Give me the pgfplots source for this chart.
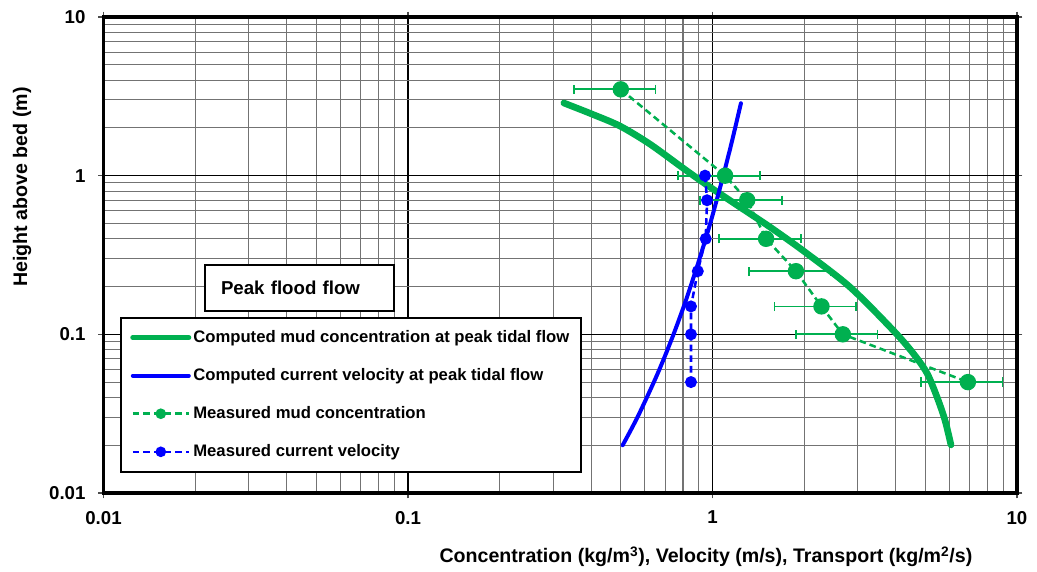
\documentclass[border=0pt]{standalone}
\usepackage{pgfplots}
\pgfplotsset{compat=1.18}
\usepackage{fontspec}
\setmainfont{Liberation Sans}
\definecolor{xgreen}{RGB}{0,176,80}
\definecolor{xblue}{RGB}{0,0,255}
\begin{document}
\begin{tikzpicture}
\begin{axis}[
  scale only axis,
  width=685.1pt, height=357pt,
  xmode=log, ymode=log,
  xmin=0.01, xmax=10, ymin=0.01, ymax=10,
  xtick={0.01,0.1,1,10}, xticklabels={0.01,0.1,1,10},
  ytick={0.01,0.1,1,10}, yticklabels={0.01,0.1,1,10},
  tick label style={font=\bfseries\fontsize{14}{16}\selectfont},
  tick align=outside,
  major tick length=4pt,
  minor tick length=0pt,
  major tick style={black!70, line width=0.8pt},
  xticklabel style={yshift=-6pt},
  yticklabel style={xshift=-6pt},
  grid=both,
  major grid style={black, line width=0.8pt},
  minor grid style={black!55, line width=0.8pt},
  axis line style={line width=2.4pt},
  xlabel={Concentration (kg/m\textsuperscript{3}), Velocity (m/s), Transport (kg/m\textsuperscript{2}/s)},
  ylabel={Height above bed (m)},
  label style={font=\bfseries\fontsize{14.7}{16}\selectfont},
  xlabel style={at={(axis description cs:0.6595,-0.134)}, anchor=center},
  ylabel style={at={(axis description cs:-0.0892,0.643)}, anchor=center},
  legend cell align=left,
  legend image code/.code={\draw[mark repeat=2,mark phase=2] plot coordinates {(0pt,0pt) (21pt,0pt) (42pt,0pt)};},
  legend style={at={(rel axis cs:0.018,0.370)}, anchor=north west, draw=black, line width=1.5pt, fill=white,
    font=\bfseries\fontsize{12.5}{14}\selectfont, row sep=15pt, inner xsep=7pt, inner ysep=8pt,
    nodes={inner sep=1.5pt}},
]
% Computed mud concentration
\addplot[xgreen, line width=5pt, line cap=round, line join=round, smooth, tension=0.5,
  legend image post style={line width=3.8pt}] coordinates {
 (0.325,2.87) (0.402,2.444) (0.497,2.054) (0.623,1.582) (0.800,1.117) (0.959,0.873)
 (1.231,0.634) (1.545,0.4744) (2.013,0.330) (2.828,0.1987) (3.915,0.1064) (4.555,0.0762)
 (5.062,0.0570) (5.462,0.0403) (5.801,0.0288) (6.071,0.0201)
};
\addlegendentry{Computed mud concentration at peak tidal flow}
% Computed current velocity
\addplot[xblue, line width=3pt, line cap=round, smooth] coordinates {
 (0.507,0.02) (0.567,0.03) (0.642,0.05) (0.692,0.07) (0.745,0.1) (0.805,0.15)
 (0.847,0.2) (0.907,0.3) (0.983,0.5) (1.032,0.7) (1.085,1.0) (1.145,1.5)
 (1.187,2.0) (1.240,2.86)
};
\addlegendentry{Computed current velocity at peak tidal flow}
% Measured mud concentration
\addplot[xgreen, line width=1.9pt, dash pattern=on 5pt off 3pt, mark=*, mark size=5.2pt,
  mark options={solid},
  legend image post style={mark size=3pt},
  error bars/.cd, x dir=both, x explicit,
  error bar style={color=xgreen, line width=1.3pt, solid},
  error mark options={color=xgreen, line width=1.3pt, mark size=3.5pt, rotate=90, solid}] coordinates {
 (0.50,3.5) +- (0.15,0)
 (1.10,1.0) +- (0.33,0)
 (1.30,0.7) +- (0.39,0)
 (1.50,0.4) +- (0.45,0)
 (1.88,0.25) +- (0.56,0)
 (2.28,0.15) +- (0.68,0)
 (2.68,0.1) +- (0.80,0)
 (6.90,0.05) +- (2.07,0)
};
\addlegendentry{Measured mud concentration}
% Measured current velocity
\addplot[xblue, line width=1.9pt, dash pattern=on 5pt off 3pt, mark=*, mark size=3.5pt,
  mark options={solid}, legend image post style={mark size=3pt}] coordinates {
 (0.945,1.0) (0.96,0.7) (0.95,0.4) (0.895,0.25) (0.85,0.15) (0.85,0.1) (0.85,0.05)
};
\addlegendentry{Measured current velocity}
\node[draw=black, line width=1.5pt, fill=white, minimum width=141.75pt, minimum height=34.5pt,
  text width=117.75pt, inner xsep=12pt, align=left, font=\bfseries\fontsize{14}{16}\selectfont]
  at (rel axis cs:0.2146,0.4307) {Peak flood flow};
\end{axis}
\pgfresetboundingbox
\path[use as bounding box] (-77.625pt,-58.5pt) rectangle (700.125pt,369.75pt);
\end{tikzpicture}
\end{document}
